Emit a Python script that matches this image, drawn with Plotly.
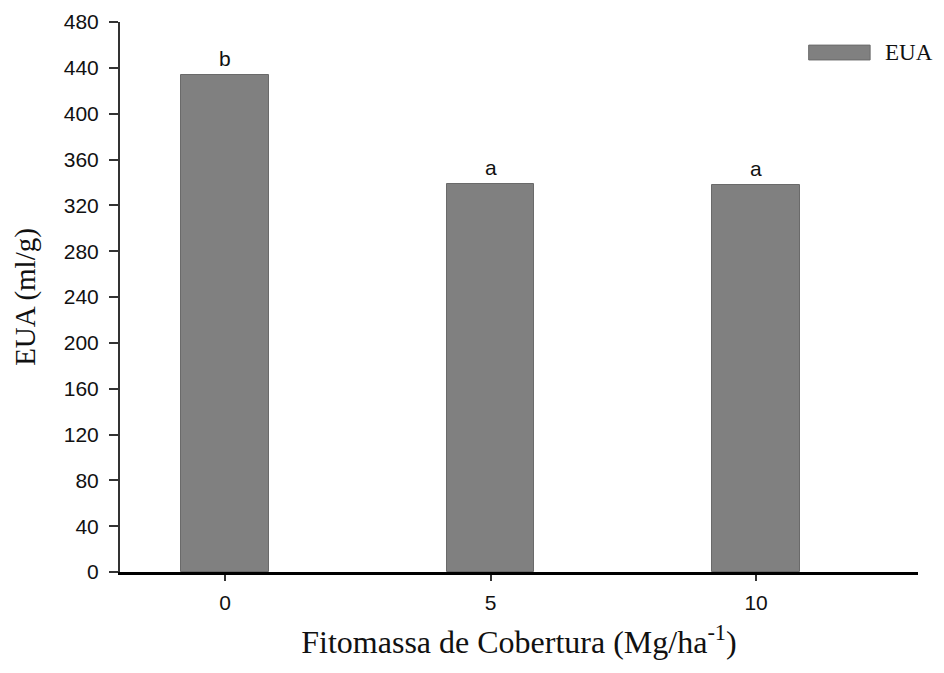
import plotly.graph_objects as go

categories = ["0", "5", "10"]
values = [433.5, 338.5, 337.5]
letters = ["b", "a", "a"]
y_ticks = list(range(0, 481, 40))

fig = go.Figure()
fig.add_trace(go.Bar(
    x=[0, 1, 2], y=values, width=0.33,
    marker=dict(color="#808080", line=dict(color="#6a6a6a", width=1)),
    name="EUA", showlegend=False,
))

for i, (v, t) in enumerate(zip(values, letters)):
    fig.add_annotation(x=i, y=v, text=t, showarrow=False, yanchor="bottom", yshift=3,
                       font=dict(family="Liberation Sans, Arial", size=21, color="#111"))

# legend drawn manually
fig.add_shape(type="rect", xref="paper", yref="paper", x0=0.863, x1=0.940, y0=0.931, y1=0.958,
              fillcolor="#808080", line=dict(color="#6a6a6a", width=1))
fig.add_annotation(xref="paper", yref="paper", x=0.956, y=0.945, text="EUA", showarrow=False,
                   xanchor="left", yanchor="middle",
                   font=dict(family="Liberation Serif, Times New Roman", size=23, color="#111"))

fig.update_layout(
    width=944, height=673,
    margin=dict(l=112, r=34, t=14, b=109),
    plot_bgcolor="white", paper_bgcolor="white",
    bargap=0,
)
fig.update_xaxes(
    range=[-0.396, 2.61], tickmode="array", tickvals=[0, 1, 2], ticktext=categories,
    showline=True, linecolor="black", linewidth=3, showgrid=False, zeroline=False,
    ticks="outside", ticklen=6, tickwidth=2, tickcolor="#333", ticklabelstandoff=4,
    tickfont=dict(family="Liberation Sans, Arial", size=21, color="#111"),
    automargin=True,
    title=dict(text="Fitomassa de Cobertura (Mg/ha<sup>-1</sup>)", standoff=18,
               font=dict(family="Liberation Serif, Times New Roman", size=32, color="#111")),
)
fig.update_yaxes(
    range=[0, 480], tickmode="array", tickvals=y_ticks,
    showline=True, linecolor="#333", linewidth=2, showgrid=False, zeroline=False,
    ticks="outside", ticklen=9, tickwidth=2, tickcolor="#333", ticklabelstandoff=6,
    tickfont=dict(family="Liberation Sans, Arial", size=21, color="#111"),
    automargin=False,
    title=dict(text="EUA (ml/g)", standoff=20,
               font=dict(family="Liberation Serif, Times New Roman", size=29, color="#111")),
)

fig.write_html("out.html")
